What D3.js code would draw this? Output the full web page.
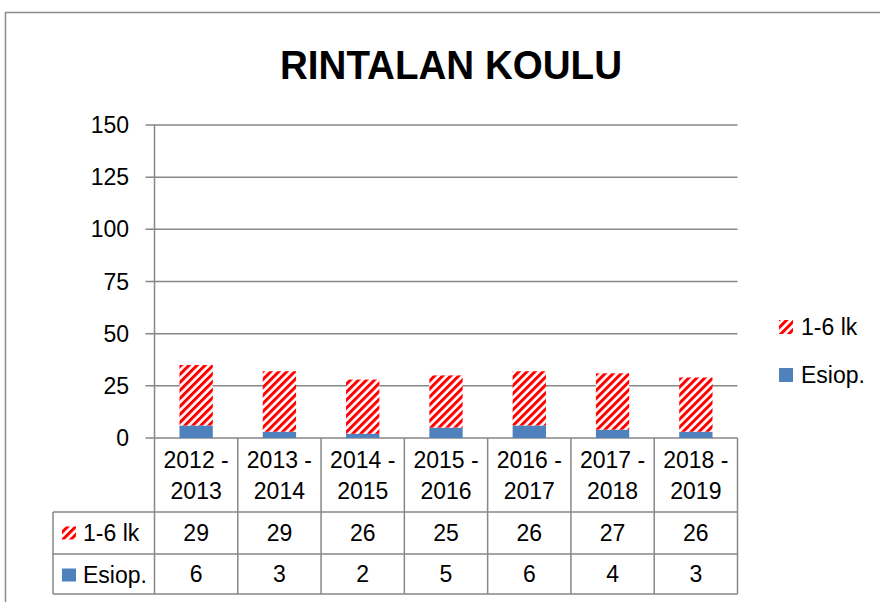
<!DOCTYPE html>
<html>
<head>
<meta charset="utf-8">
<script src="https://cdn.jsdelivr.net/npm/d3@7"></script>
<style>
  body { margin: 0; background: #fff; }
  svg { display: block; font-family: "Liberation Sans", Arial, sans-serif; }
</style>
</head>
<body>
<svg id="chart" width="880" height="602"></svg>
<script>
// data
const years = ["2012 - 2013", "2013 - 2014", "2014 - 2015", "2015 - 2016", "2016 - 2017", "2017 - 2018", "2018 - 2019"];
const lk16 = [29, 29, 26, 25, 26, 27, 26];
const esiop = [6, 3, 2, 5, 6, 4, 3];
const yTicks = [0, 25, 50, 75, 100, 125, 150];
const seriesNames = ["1-6 lk", "Esiop."];

const svg = d3.select("#chart");
const gridColor = "#878787";
const blue = "#4f81bd";
const fs = 23;

// stripe pattern for 1-6 lk
const defs = svg.append("defs");
const pat = defs.append("pattern")
  .attr("id", "stripes")
  .attr("patternUnits", "userSpaceOnUse")
  .attr("width", 5.66).attr("height", 8)
  .attr("patternTransform", "rotate(45)");
pat.append("rect").attr("width", 5.66).attr("height", 8).attr("fill", "#fff");
pat.append("rect").attr("width", 3).attr("height", 8).attr("fill", "#ff0000");

// outer frame
svg.append("path")
  .attr("d", "M5.5,602 L5.5,12.5 L880,12.5")
  .attr("fill", "none").attr("stroke", "#8c8c8c").attr("stroke-width", 1.5);

// title
svg.append("text")
  .attr("x", 451).attr("y", 79)
  .attr("text-anchor", "middle")
  .attr("font-size", 40).attr("font-weight", "bold")
  .attr("textLength", 342).attr("lengthAdjust", "spacingAndGlyphs")
  .text("RINTALAN KOULU");

const plotLeft = 154.5, plotRight = 737.5, plotTop = 125, base = 438;

const x = d3.scaleBand().domain(years).range([plotLeft, plotRight]);
const y = d3.scaleLinear().domain([0, 150]).range([base, plotTop]);

// grid + y ticks
yTicks.forEach(t => {
  svg.append("line")
    .attr("x1", plotLeft - 9).attr("x2", plotRight)
    .attr("y1", y(t)).attr("y2", y(t))
    .attr("stroke", gridColor).attr("stroke-width", 1.5);
  svg.append("text")
    .attr("x", 129).attr("y", y(t) + 8)
    .attr("text-anchor", "end")
    .attr("font-size", fs)
    .text(t);
});
svg.append("line")
  .attr("x1", plotLeft).attr("x2", plotLeft)
  .attr("y1", plotTop).attr("y2", base)
  .attr("stroke", gridColor).attr("stroke-width", 1.5);

// bars
const data = years.map((yr, i) => ({ yr, esiop: esiop[i], lk16: lk16[i] }));
const stack = d3.stack().keys(["esiop", "lk16"])(data);
const barW = x.bandwidth() * 0.4;

svg.append("g").selectAll("g")
  .data(stack)
  .join("g")
  .attr("fill", d => d.key === "esiop" ? blue : "url(#stripes)")
  .selectAll("rect")
  .data(d => d)
  .join("rect")
  .attr("x", d => x(d.data.yr) + (x.bandwidth() - barW) / 2)
  .attr("y", d => y(d[1]))
  .attr("width", barW)
  .attr("height", d => y(d[0]) - y(d[1]));

// data table
const row1 = 512, row2 = 554, row3 = 594, tableLeft = 53;
const tg = svg.append("g").attr("stroke", gridColor).attr("stroke-width", 1.5);
[row1, row2, row3].forEach(yy => {
  tg.append("line").attr("x1", tableLeft).attr("x2", plotRight).attr("y1", yy).attr("y2", yy);
});
tg.append("line").attr("x1", tableLeft).attr("x2", tableLeft).attr("y1", row1).attr("y2", row3);
years.forEach(yr => {
  tg.append("line").attr("x1", x(yr)).attr("x2", x(yr)).attr("y1", base).attr("y2", row3);
});
tg.append("line").attr("x1", plotRight).attr("x2", plotRight).attr("y1", base).attr("y2", row3);

years.forEach((yr, i) => {
  const cx = x(yr) + x.bandwidth() / 2;
  const parts = yr.split(" - ");
  svg.append("text").attr("x", cx).attr("y", 468).attr("text-anchor", "middle")
    .attr("font-size", fs).text(parts[0] + " -");
  svg.append("text").attr("x", cx).attr("y", 499).attr("text-anchor", "middle")
    .attr("font-size", fs).text(parts[1]);
  svg.append("text").attr("x", cx).attr("y", 541).attr("text-anchor", "middle")
    .attr("font-size", fs).text(lk16[i]);
  svg.append("text").attr("x", cx).attr("y", 582).attr("text-anchor", "middle")
    .attr("font-size", fs).text(esiop[i]);
});

// table row headers
[[row1, "url(#stripes)"], [row2, blue]].forEach(([ry, fill], i) => {
  svg.append("rect").attr("x", 62).attr("y", ry + 14.5).attr("width", 14).attr("height", 13).attr("fill", fill);
  svg.append("text").attr("x", 83).attr("y", ry + 29).attr("font-size", fs).text(seriesNames[i]);
});

// legend
[[320, "url(#stripes)"], [368, blue]].forEach(([ly, fill], i) => {
  svg.append("rect").attr("x", 779).attr("y", ly).attr("width", 14).attr("height", 14).attr("fill", fill);
  svg.append("text").attr("x", 801).attr("y", ly + 15).attr("font-size", fs).text(seriesNames[i]);
});
</script>
</body>
</html>
